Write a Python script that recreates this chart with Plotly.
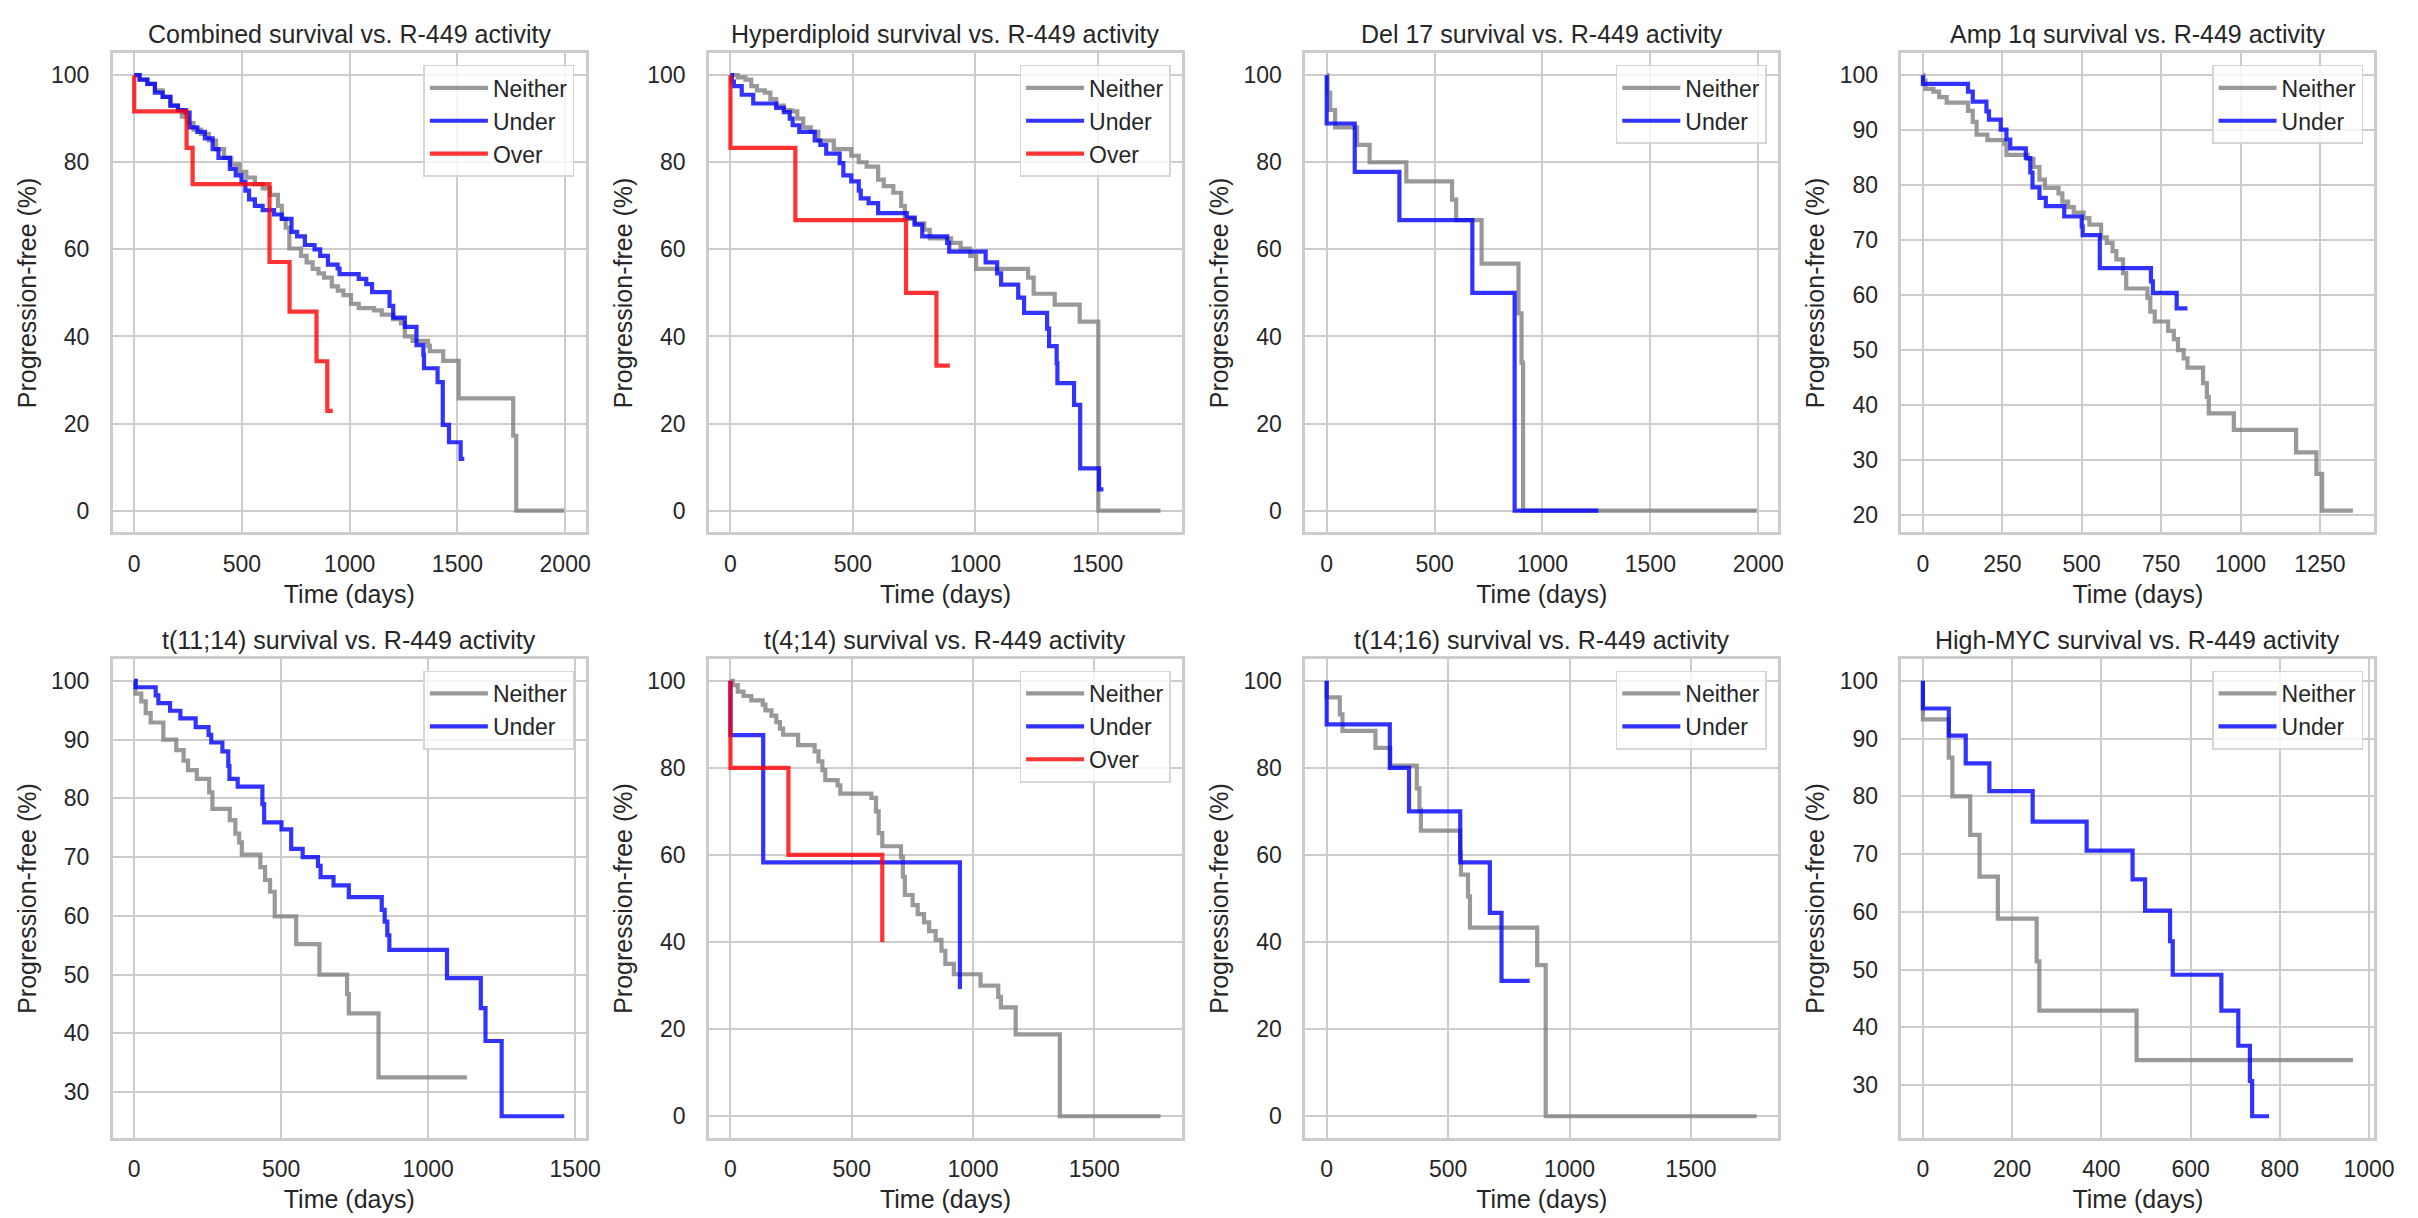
import plotly.graph_objects as go

# ---------------- data ----------------
titles = ["Combined survival vs. R-449 activity", "Hyperdiploid survival vs. R-449 activity",
          "Del 17 survival vs. R-449 activity", "Amp 1q survival vs. R-449 activity",
          "t(11;14) survival vs. R-449 activity", "t(4;14) survival vs. R-449 activity",
          "t(14;16) survival vs. R-449 activity", "High-MYC survival vs. R-449 activity"]

# Combined
comb_neither_t = [0, 25, 61, 96, 132, 168, 203, 221, 250, 275, 310, 346, 380, 417, 450, 489, 520, 560, 596, 630,
                  667, 685, 703, 720, 774, 800, 828, 855, 881, 917, 945, 971, 1006, 1042, 1113, 1149, 1202, 1238,
                  1256, 1292, 1363, 1372, 1434, 1506, 1759, 1773, 1996]
comb_neither_s = [100, 99, 98, 96.5, 95, 93, 92, 90.5, 89, 87.5, 86.5, 85, 83, 81, 79.5, 77.8, 76.5, 75, 74, 72.5,
                  70, 67, 65, 60.2, 58.5, 57, 55.5, 54.5, 53.5, 51.5, 50.5, 49.5, 47.5, 46.5, 46, 45, 44, 43,
                  40, 39, 37.9, 36.6, 34.4, 25.8, 17.2, 0, 0]
comb_under_t = [0, 25, 61, 96, 132, 168, 203, 239, 257, 293, 328, 364, 391, 444, 471, 498, 516, 533, 560, 596,
                649, 685, 730, 756, 792, 837, 863, 899, 944, 953, 1042, 1077, 1104, 1185, 1202, 1256, 1310, 1342,
                1345, 1408, 1432, 1461, 1515, 1532]
comb_under_s = [100, 99, 98, 96, 95, 93, 92, 91.4, 88, 87, 85.5, 83, 81, 78.5, 77, 75.5, 73.5, 71.5, 70, 69,
                68, 67, 64, 63, 61, 60, 58.5, 56.5, 55.6, 54.3, 53.2, 52, 50.2, 47, 44.3, 42.2, 38, 35.8,
                32.7, 29.5, 19.7, 15.7, 11.9, 11.9]
comb_over_t = [0, 0, 243, 271, 628, 721, 846, 896, 922]
comb_over_s = [100, 91.7, 83.3, 75, 57.1, 45.7, 34.3, 22.9, 22.9]

# Hyperdiploid
hyp_neither_t = [0, 30, 61, 85, 108, 140, 163, 187, 218, 249, 273, 297, 328, 359, 422, 493, 524, 556, 603, 626,
                 665, 697, 712, 752, 791, 814, 901, 940, 979, 1003, 1215, 1238, 1324, 1426, 1502, 1756]
hyp_neither_s = [100, 99.5, 99, 97.5, 96.5, 96, 94.5, 93, 92, 91.7, 90, 88, 87, 85, 83, 81.5, 80, 79, 76, 74.5,
                 73, 70, 67, 66, 64.5, 62.5, 61.5, 60.2, 58.5, 55.5, 53.5, 49.8, 47.3, 43.4, 0, 0]
hyp_under_t = [0, 6, 14, 46, 93, 187, 218, 242, 254, 281, 344, 367, 391, 446, 461, 493, 524, 532, 564, 603,
               720, 752, 783, 885, 893, 1042, 1089, 1105, 1175, 1199, 1293, 1301, 1332, 1335, 1403, 1428, 1505, 1523]
hyp_under_s = [100, 98.5, 97.5, 95.5, 93.5, 92.5, 91.5, 90, 88.5, 87, 85, 84, 82, 79.8, 77, 75.6, 73.5, 71.7, 70.6, 68.3,
               67.3, 65.7, 63, 61.5, 59.5, 57, 54.5, 51.9, 48.9, 45.4, 41.8, 37.8, 33.9, 29.3, 24.3, 9.7, 4.9, 4.9]
hyp_over_t = [0, 0, 265, 717, 841, 896]
hyp_over_s = [100, 83.3, 66.7, 50, 33.3, 33.3]

# Del 17
del_neither_t = [0, 4, 16, 39, 141, 199, 369, 581, 600, 718, 889, 903, 910, 1993]
del_neither_s = [100, 96, 92, 88, 84, 80, 75.6, 71.4, 66.7, 56.7, 45.3, 34, 0, 0]
del_under_t = [0, 0, 130, 337, 675, 871, 1259]
del_under_s = [100, 88.9, 77.8, 66.7, 50, 0, 0]

# Amp 1q
amp_neither_t = [0, 2, 8, 33, 51, 75, 142, 157, 169, 203, 257, 263, 330, 348, 367, 384, 427, 439, 457, 475,
                 506, 524, 561, 579, 597, 609, 630, 640, 707, 716, 730, 772, 790, 803, 821, 833, 882, 894, 900,
                 979, 1175, 1239, 1257, 1354]
amp_neither_s = [100, 99, 97.5, 97, 96, 95, 93.5, 91.5, 89.2, 88.2, 87.5, 85.5, 84.8, 83.3, 81, 79.5, 78.5, 77, 76, 75,
                 74, 72.8, 70.5, 69.5, 68, 66.5, 64, 61.2, 59.5, 57, 55.2, 53.5, 52, 50, 48.5, 46.8, 44, 41.5, 38.5,
                 35.5, 31.4, 27.5, 20.8, 20.8]
amp_under_t = [0, 0, 142, 157, 200, 208, 245, 263, 275, 324, 338, 345, 367, 387, 445, 500, 503, 557, 718, 724, 799, 833]
amp_under_s = [100, 98.4, 97, 95.2, 93.4, 91.9, 90.1, 88.3, 86.7, 84.9, 82.3, 79.6, 77.7, 76.2, 74.3, 72.5, 70.9, 64.9,
               62.5, 60.4, 57.6, 57.6]

# t(11;14)
t1114_neither_t = [0, 4, 24, 39, 56, 99, 143, 168, 183, 213, 255, 266, 325, 344, 357, 366, 429, 445, 462, 478,
                   551, 630, 724, 730, 831, 1132]
t1114_neither_s = [100, 97.8, 96.5, 94.5, 92.9, 90, 88.2, 86.4, 84.8, 83.3, 81, 78.2, 76.3, 74, 72.5, 70.4, 68.3, 66.1,
                   64.1, 59.9, 55.2, 50, 46.7, 43.4, 32.5, 32.5]
t1114_under_t = [0, 5, 73, 82, 122, 157, 209, 253, 262, 300, 320, 324, 352, 436, 442, 501, 534, 573, 625, 634,
                 678, 730, 842, 852, 861, 868, 1064, 1179, 1195, 1250, 1463]
t1114_under_s = [100, 98.9, 97.5, 96.2, 94.9, 93.6, 92.1, 90.8, 89.5, 88, 85.5, 83.3, 82, 79, 75.9, 74.7, 71.4, 70,
                 68.5, 66.6, 65.2, 63.2, 61, 59, 56.7, 54.2, 49.4, 44.3, 38.7, 25.9, 25.9]

# t(4;14)
t414_neither_t = [0, 10, 30, 54, 86, 133, 144, 169, 189, 204, 217, 279, 347, 363, 379, 391, 442, 453, 581, 600,
                  611, 626, 703, 711, 719, 751, 772, 798, 819, 846, 870, 886, 921, 1031, 1104, 1115, 1176, 1358, 1773]
t414_neither_s = [100, 99, 97.5, 96.5, 95.5, 94.5, 93.2, 92, 90.5, 89, 87.6, 85.2, 83.8, 81.5, 79.5, 77.2, 76, 74.1,
                  73.1, 70, 65, 62, 59.5, 55, 50.8, 48.5, 46.4, 44.5, 42.5, 40.5, 38, 35, 32.6, 30, 27.4, 25, 18.8, 0, 0]
t414_under_t = [0, 0, 135, 946]
t414_under_s = [100, 87.5, 58.3, 29.2]
t414_over_t = [0, 0, 239, 626]
t414_over_s = [100, 80, 60, 40]

# t(14;16)
t1416_neither_t = [0, 0, 54, 65, 201, 262, 371, 382, 388, 550, 553, 582, 590, 867, 902, 1771]
t1416_neither_s = [100, 96.2, 92.3, 88.5, 84.6, 80.5, 75.3, 70.4, 65.6, 60.5, 55.5, 50.5, 43.3, 34.7, 0, 0]
t1416_under_t = [0, 0, 260, 339, 550, 672, 720, 836]
t1416_under_s = [100, 90, 80, 70, 58.3, 46.7, 31.1, 31.1]

# High-MYC
myc_neither_t = [0, 0, 58, 66, 106, 127, 168, 255, 261, 479, 964]
myc_neither_s = [100, 93.3, 86.7, 80, 73.3, 66.1, 58.8, 51.4, 42.9, 34.3, 34.3]
myc_under_t = [0, 0, 58, 96, 149, 246, 367, 470, 498, 554, 560, 669, 707, 733, 738, 776]
myc_under_s = [100, 95.2, 90.5, 85.7, 80.9, 75.6, 70.6, 65.6, 60.2, 54.9, 49.1, 42.9, 36.8, 30.7, 24.6, 24.6]

panel_series = [
    [("Neither", comb_neither_t, comb_neither_s), ("Under", comb_under_t, comb_under_s), ("Over", comb_over_t, comb_over_s)],
    [("Neither", hyp_neither_t, hyp_neither_s), ("Under", hyp_under_t, hyp_under_s), ("Over", hyp_over_t, hyp_over_s)],
    [("Neither", del_neither_t, del_neither_s), ("Under", del_under_t, del_under_s)],
    [("Neither", amp_neither_t, amp_neither_s), ("Under", amp_under_t, amp_under_s)],
    [("Neither", t1114_neither_t, t1114_neither_s), ("Under", t1114_under_t, t1114_under_s)],
    [("Neither", t414_neither_t, t414_neither_s), ("Under", t414_under_t, t414_under_s), ("Over", t414_over_t, t414_over_s)],
    [("Neither", t1416_neither_t, t1416_neither_s), ("Under", t1416_under_t, t1416_under_s)],
    [("Neither", myc_neither_t, myc_neither_s), ("Under", myc_under_t, myc_under_s)],
]
x_dticks = [500, 500, 500, 250, 500, 500, 500, 200]
y_dticks = [20, 20, 20, 10, 10, 20, 20, 10]

# ---------------- style / layout ----------------
W, H = 2418, 1218
colors = {"Neither": "rgba(128,128,128,0.8)", "Under": "rgba(0,0,255,0.8)", "Over": "rgba(255,0,0,0.8)"}
FONT = "Liberation Sans, Arial, sans-serif"
TXT = "#262626"
GRID = "#cccccc"
AX_W, AX_H = 477, 479
col_left = [105.6, 706.8, 1308.0, 1909.2]
row_top = [45.4, 651.0]

fig = go.Figure()
layout = dict(width=W, height=H, margin=dict(l=0, r=0, t=0, b=0),
              paper_bgcolor="white", plot_bgcolor="white",
              font=dict(family=FONT, color=TXT, size=23), showlegend=True, annotations=[])

for i, series in enumerate(panel_series):
    r, c = divmod(i, 4)
    x0, x1 = col_left[c] / W, (col_left[c] + AX_W) / W
    y0, y1 = 1 - (row_top[r] + AX_H) / H, 1 - row_top[r] / H
    sfx = "" if i == 0 else str(i + 1)
    leg = "legend" if i == 0 else "legend%d" % (i + 1)
    for name, t, s in series:
        fig.add_trace(go.Scatter(x=t, y=s, mode="lines", line=dict(color=colors[name], width=4.2, shape="hv"),
                                 name=name, legend=leg, xaxis="x" + sfx, yaxis="y" + sfx))
    tmax = max(max(t) for _, t, _ in series)
    smin = min(min(s) for _, _, s in series)
    smax = max(max(s) for _, _, s in series)
    xpad = 0.05 * tmax
    ypad = 0.05 * (smax - smin)
    axcommon = dict(showline=True, mirror=True, linecolor=GRID, linewidth=2.6, showgrid=True, gridcolor=GRID,
                    gridwidth=2.1, zeroline=False, ticks="outside", tickcolor="rgba(0,0,0,0)",
                    tickfont=dict(size=23, color=TXT, family=FONT))
    layout["xaxis" + sfx] = dict(axcommon, domain=[x0, x1], anchor="y" + sfx, range=[-xpad, tmax + xpad],
                                 tick0=0, dtick=x_dticks[i], ticklen=9,
                                 title=dict(text="Time (days)", font=dict(size=25, color=TXT), standoff=10))
    layout["yaxis" + sfx] = dict(axcommon, domain=[y0, y1], anchor="x" + sfx, range=[smin - ypad, smax + ypad],
                                 tick0=0, dtick=y_dticks[i], ticklen=16,
                                 title=dict(text="Progression-free (%)", font=dict(size=25, color=TXT), standoff=8))
    layout[leg] = dict(x=x1 - 11.5 / W, y=y1 - 11.5 / H, xanchor="right", yanchor="top",
                       bgcolor="rgba(255,255,255,0.8)", bordercolor="#d6d6d6", borderwidth=1.5,
                       font=dict(size=23, color=TXT, family=FONT), itemwidth=58)
    layout["annotations"].append(dict(text=titles[i], xref="paper", yref="paper", x=(x0 + x1) / 2, y=y1,
                                      xanchor="center", yanchor="bottom", yshift=3, showarrow=False,
                                      font=dict(size=25, color=TXT, family=FONT)))

fig.update_layout(**layout)
fig.write_html("out.html")
